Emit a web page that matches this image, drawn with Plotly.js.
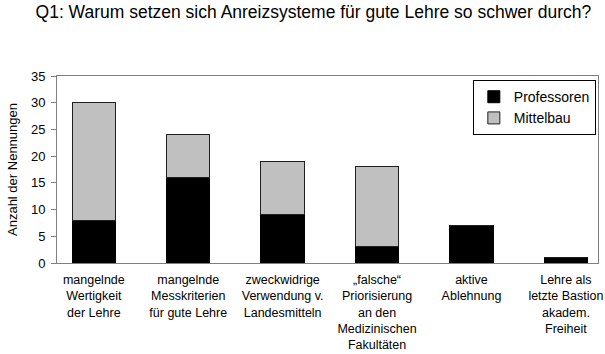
<!DOCTYPE html>
<html>
<head>
<meta charset="utf-8">
<script src="https://cdn.plot.ly/plotly-3.0.1.min.js"></script>
<style>html,body{margin:0;padding:0;background:#fff;}#chart{width:605px;height:354px;}</style>
</head>
<body>
<div id="chart"></div>
<script>
const categories = [
  "mangelnde<br>Wertigkeit<br>der Lehre",
  "mangelnde<br>Messkriterien<br>für gute Lehre",
  "zweckwidrige<br>Verwendung v.<br>Landesmitteln",
  "„falsche“<br>Priorisierung<br>an den<br>Medizinischen<br>Fakultäten",
  "aktive<br>Ablehnung",
  "Lehre als<br>letzte Bastion<br>akadem.<br>Freiheit"
];
const professoren = [8, 16, 9, 3, 7, 1];
const mittelbau = [22, 8, 10, 15, 0, 0];
const yTicks = [0, 5, 10, 15, 20, 25, 30, 35];

const font = "Arial, 'Liberation Sans', sans-serif";

const data = [
  {type: "bar", name: "Professoren", x: categories, y: professoren,
   marker: {color: "#000000", line: {color: "#000000", width: 1}}, width: 0.46},
  {type: "bar", name: "Mittelbau", x: categories, y: mittelbau,
   marker: {color: "#C0C0C0", line: {color: "#202020", width: 1}}, width: 0.46}
];

const layout = {
  width: 605, height: 354,
  margin: {l: 57, r: 7, t: 76, b: 91},
  paper_bgcolor: "#fff", plot_bgcolor: "#fff",
  barmode: "stack",
  font: {family: font, size: 12, color: "#000"},
  title: {text: "Q1: Warum setzen sich Anreizsysteme für gute Lehre so schwer durch?",
          font: {family: font, size: 17.5, color: "#000"}, x: 0.518, xanchor: "center", y: 0.967, yanchor: "middle"},
  xaxis: {type: "category", range: [-0.39, 5.34], showline: true, linecolor: "#808080", linewidth: 1,
          mirror: true, ticks: "", showgrid: false, zeroline: false, ticklabelstandoff: 5,
          tickfont: {family: font, size: 12.5, color: "#000"}, fixedrange: true},
  yaxis: {range: [0, 35], tickvals: yTicks, showline: true, linecolor: "#808080", linewidth: 1,
          mirror: true, ticks: "outside", ticklen: 5, tickcolor: "#808080", showgrid: false, zeroline: false,
          tickfont: {family: font, size: 13, color: "#000"}, ticklabelstandoff: 3,
          title: {text: "Anzahl der Nennungen", font: {family: font, size: 13, color: "#000"}, standoff: 10}},
  legend: {x: 0.996, xanchor: "right", y: 0.978, yanchor: "top", traceorder: "normal",
           bordercolor: "#000", borderwidth: 1, bgcolor: "#fff", itemwidth: 30,
           font: {family: font, size: 14, color: "#000"}},
  showlegend: true
};

Plotly.newPlot("chart", data, layout, {staticPlot: true, displayModeBar: false});
</script>
</body>
</html>
